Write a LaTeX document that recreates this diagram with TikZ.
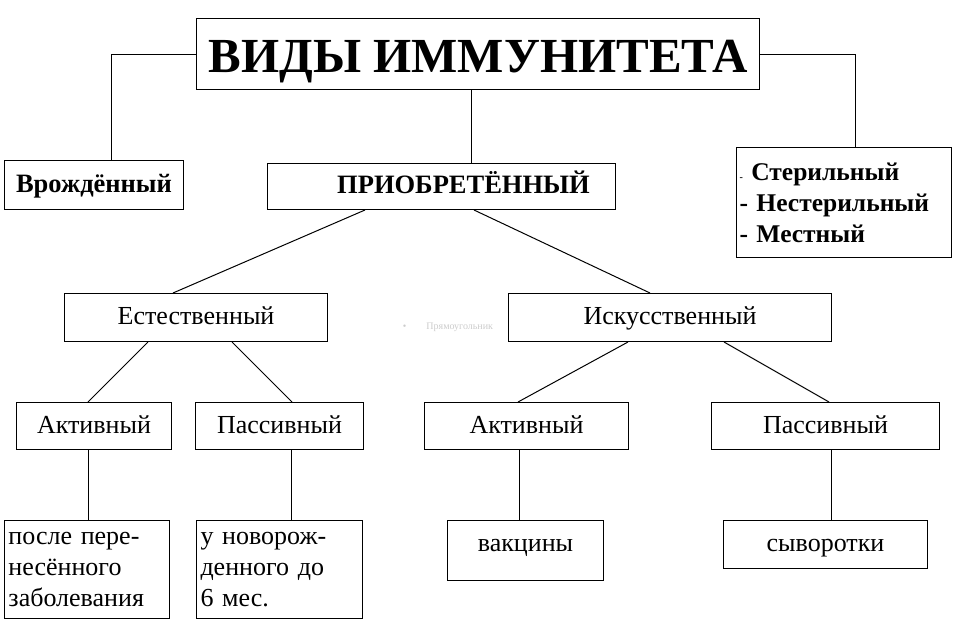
\documentclass[tikz,border=0pt]{standalone}
\usepackage{fontspec}
\setmainfont{Liberation Serif}
\usetikzlibrary{calc}
\begin{document}
\begin{tikzpicture}[x=1pt,y=-1pt,line width=1pt,
  box/.style={draw,inner sep=0pt,anchor=north west,text height=18pt,text depth=4pt,font=\fontsize{26}{30}\selectfont},
  bbox/.style={box,font=\fontsize{26.5}{30}\selectfont\bfseries},
  ln/.style={draw,line width=1pt}]
\useasboundingbox (0,0) rectangle (956,622);
\node[draw,inner sep=0pt,anchor=north west,text height=38pt,text depth=2pt,font=\fontsize{49}{54}\selectfont\bfseries,minimum width=563pt,minimum height=71pt] (t) at (196,18) {ВИДЫ ИММУНИТЕТА\hspace{14pt}};
\node[bbox,minimum width=179pt,minimum height=49pt] (vr) at (4,160) {Врождённый};
\node[bbox,minimum width=348pt,minimum height=46pt] (pr) at (267,163) {\hspace{44pt}ПРИОБРЕТЁННЫЙ};
\node[draw,anchor=north west,minimum width=215pt,minimum height=110pt,text width=209pt,align=left,inner xsep=3pt,inner ysep=4pt,font=\fontsize{25.5}{31}\selectfont\bfseries] (st) at (736,147) {{\fontsize{10}{12}\selectfont -} Стерильный\\- Нестерильный\\- Местный};
\node[box,minimum width=263pt,minimum height=48pt] (es) at (64,293) {Естественный};
\node[box,minimum width=323pt,minimum height=48pt] (is) at (508,293) {Искусственный};
\node[box,minimum width=155pt,minimum height=47pt] (a1) at (16,402) {Активный};
\node[box,minimum width=168pt,minimum height=47pt] (p1) at (195,402) {Пассивный};
\node[box,minimum width=204pt,minimum height=47pt] (a2) at (424,402) {Активный};
\node[box,minimum width=228pt,minimum height=47pt] (p2) at (711,402) {Пассивный};
\node[draw,anchor=north west,minimum width=165pt,minimum height=98pt,text width=157pt,inner xsep=4pt,inner ysep=7pt,align=left,font=\fontsize{26}{31}\selectfont] (b1) at (4,520) {после пере-\\несённого\\заболевания};
\node[draw,anchor=north west,minimum width=166pt,minimum height=98pt,text width=158pt,inner xsep=4pt,inner ysep=7pt,align=left,font=\fontsize{26}{31}\selectfont] (b2) at (196,520) {у новорож-\\денного до\\6 мес.};
\node[box,minimum width=156pt,minimum height=60pt,text depth=16pt] (b3) at (447,520) {вакцины};
\node[box,minimum width=204pt,minimum height=48pt] (b4) at (723,520) {сыворотки};
\node[text=black!20,font=\fontsize{10}{12}\selectfont] (w) at (448,327) {\textbullet\qquad Прямоугольник};
\draw (t.west) -| (vr.north -| 111,0);
\draw (t.east) -| (st.north -| 855,0);
\draw (t.south -| 471,0) -- (pr.north -| 471,0);
\draw ($(pr.south west)+(98,0)$) -- ($(es.north west)+(109,0)$);
\draw ($(pr.south west)+(207,0)$) -- ($(is.north west)+(142,0)$);
\draw ($(es.south west)+(84,0)$) -- ($(a1.north west)+(72,0)$);
\draw ($(es.south west)+(168,0)$) -- ($(p1.north west)+(97,0)$);
\draw ($(is.south west)+(120,0)$) -- ($(a2.north west)+(94,0)$);
\draw ($(is.south west)+(216,0)$) -- ($(p2.north west)+(118,0)$);
\draw (a1.south -| 88,0) -- (b1.north -| 88,0);
\draw (p1.south -| 291,0) -- (b2.north -| 291,0);
\draw (a2.south -| 519,0) -- (b3.north -| 519,0);
\draw (p2.south -| 831,0) -- (b4.north -| 831,0);
\end{tikzpicture}
\end{document}
